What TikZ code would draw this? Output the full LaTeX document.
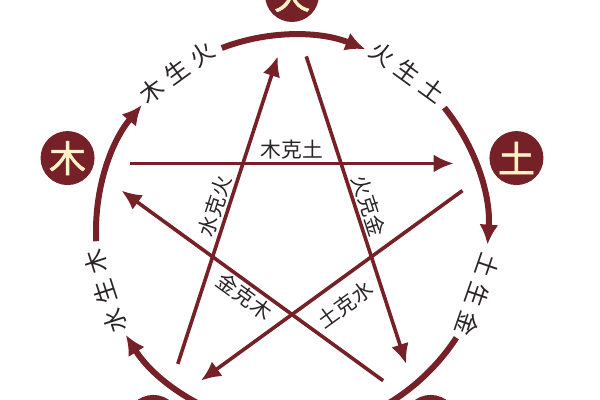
\documentclass[tikz,border=0pt]{standalone}
\usepackage{fontspec}
\usepackage{tikz}
\usetikzlibrary{calc, shapes, arrows.meta}
\newfontfamily\cjk{Noto Sans CJK SC}
\newfontfamily\cjkbold[FakeBold=1.5]{Noto Sans CJK SC}
\definecolor{wxred}{HTML}{762127}
\definecolor{wxcream}{HTML}{FFF2C6}
\definecolor{wxtext}{HTML}{2A2426}

\begin{document}
\begin{tikzpicture}[x=0.5pt,y=0.5pt]
\tikzstyle{line} = [draw=wxred, line width=1.8pt, -{Latex[length=10pt,width=9pt]}]
\tikzstyle{arcline} = [draw=wxred, line width=3pt, -{Latex[length=10pt,width=9.5pt]}]
\tikzstyle{element}=[circle,fill=wxred,text=wxcream,minimum size=27pt,inner sep=0pt,font=\cjkbold\fontsize{18.5}{18.5}\selectfont]
\tikzstyle{kelabel}=[text=wxtext,inner sep=1pt,font=\cjk\fontsize{10.4}{10.4}\selectfont]
\tikzstyle{shenglabel}=[text=wxtext,inner sep=0pt,font=\cjk\fontsize{12}{12}\selectfont]
\useasboundingbox (-292,-169) rectangle (308,231);
% the five elements
\node[element] (huo) at (90:236) {火};
\node[element] (tu) at (18:236) {土};
\node[element] (jin) at (-54:236) {金};
\node[element] (shui) at (-126:236) {水};
\node[element] (mu) at (162:236) {木};
% sheng cycle, outer arcs
\coordinate (mu_s) at (183:196);
\coordinate (huo_s) at (111:196);
\coordinate (tu_s) at (39:196);
\coordinate (jin_s) at (-33:196);
\coordinate (shui_s) at (255:196);
\draw[arcline] (mu_s) arc[start angle=183, end angle=140, radius=196];
\draw[arcline] (huo_s) arc[start angle=111, end angle=68, radius=196];
\draw[arcline] (tu_s) arc[start angle=39, end angle=-4, radius=196];
\draw[arcline] (jin_s) arc[start angle=-33, end angle=-76, radius=196];
\draw[arcline] (shui_s) arc[start angle=255, end angle=212, radius=196];
\node[shenglabel, rotate=36] (mu_sheng) at (126:196) {木\hspace{3.5pt}生\hspace{3.5pt}火};
\node[shenglabel, rotate=-36] (huo_sheng) at (54:196) {火\hspace{3.5pt}生\hspace{3.5pt}土};
\node[shenglabel, rotate=-109] (tu_sheng) at (-19:196) {土\hspace{3.5pt}生\hspace{3.5pt}金};
\node[shenglabel, rotate=108] (shui_sheng) at (198:196) {水\hspace{3.5pt}生\hspace{3.5pt}木};
% ke cycle, each chord pushed 15 outward
\coordinate (mk1) at ($(162:170)+(90:15)$);
\coordinate (mk2) at ($(18:170)+(90:15)$);
\coordinate (tk1) at ($(18:170)+(-54:15)$);
\coordinate (tk2) at ($(234:170)+(-54:15)$);
\coordinate (sk1) at ($(234:170)+(162:15)$);
\coordinate (sk2) at ($(90:170)+(162:15)$);
\coordinate (hk1) at ($(90:170)+(18:15)$);
\coordinate (hk2) at ($(-54:170)+(18:15)$);
\coordinate (jk1) at ($(-54:170)+(234:15)$);
\coordinate (jk2) at ($(162:170)+(234:15)$);
\path [line] (mk1) -- node[kelabel, midway, sloped, above] {木克土} (mk2);
\path [line] (tk1) -- node[kelabel, midway, sloped, below=5pt] {土克水} (tk2);
\path [line] (sk1) -- node[kelabel, midway, sloped, above] {水克火} (sk2);
\path [line] (hk1) -- node[kelabel, midway, sloped, above] {火克金} (hk2);
\path [line] (jk1) -- node[kelabel, midway, sloped, below] {金克木} (jk2);
\end{tikzpicture}
\end{document}
